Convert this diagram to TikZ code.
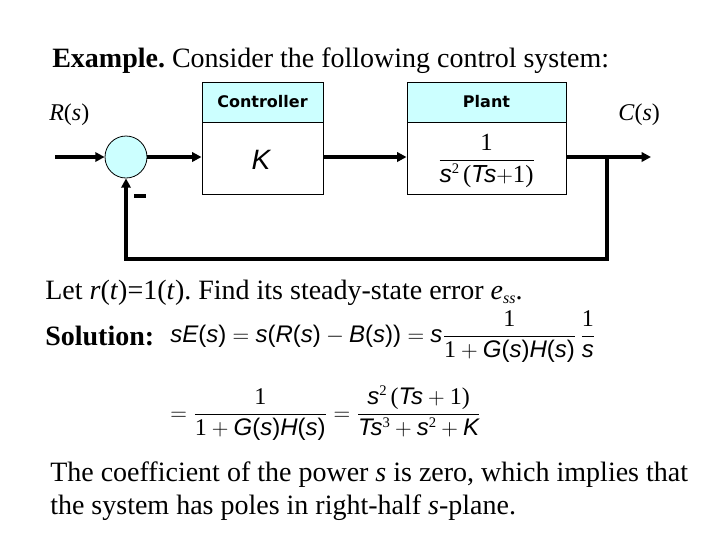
\documentclass[tikz,border=0pt]{standalone}
\usepackage{amsmath}
\usepackage{fontspec}
\setmainfont{Liberation Serif}
\newfontfamily\ar{Liberation Sans}
\newfontfamily\dvb{DejaVu Sans}
\usetikzlibrary{arrows.meta}
\definecolor{lcyan}{RGB}{204,255,255}
\frenchspacing
\newcommand\Si[1]{\text{\ar\itshape #1}}
\newcommand\Sr[1]{\text{\ar\upshape #1}}
\newcommand\Tr[1]{\text{\rmfamily\upshape #1}}
\newcommand\Sup[1]{\mbox{\raisebox{6.5pt}{\rmfamily\upshape\fontsize{11}{11}\selectfont #1}}}
\tikzset{
  conn/.style={line width=3pt,-{Triangle[length=7pt,width=7pt]}},
  connp/.style={line width=3pt},
  sumnode/.style={circle,draw,line width=0.6pt,fill=lcyan,minimum size=31.5pt,inner sep=0pt},
  blkbox/.style={draw,line width=0.75pt,fill=white,minimum width=#1,minimum height=84pt,inner sep=0pt},
  blkhead/.style={draw,line width=0.75pt,fill=lcyan,minimum width=#1,minimum height=30pt,inner sep=0pt,anchor=north,font=\dvb\bfseries\fontsize{12}{14}\selectfont},
  txt/.style={inner sep=0pt,anchor=base west,font=\fontsize{21}{25}\selectfont},
  sig/.style={inner sep=0pt,anchor=base west,font=\fontsize{18}{22}\selectfont},
  eqn/.style={inner sep=0pt,anchor=base west,font=\fontsize{18}{22}\selectfont},
}
\begin{document}
\begin{tikzpicture}[x=0.75pt,y=-0.75pt]
\useasboundingbox (0,0) rectangle (720,540);
\fill[white] (0,0) rectangle (720,540);
% title
\node[txt] (title) at (52,67) {\textbf{Example.} Consider the following control system:};
% signals
\node[sig] (Rs) at (49,120) {\textit{R}(\textit{s})};
\node[sig] (Cs) at (618,120) {\textit{C}(\textit{s})};
% summing junction
\node[sumnode] (sum) at (126,157) {};
% controller
\node[blkbox=90.75pt] (ctrl) at (262.5,138) {};
\node[blkhead=90.75pt] (ctrlh) at (ctrl.north) {Controller};
\node[inner sep=0pt,font=\ar\itshape\fontsize{21}{24}\selectfont] (K) at (261,160) {K};
% plant
\node[blkbox=119.25pt] (plant) at (486.5,138) {};
\node[blkhead=119.25pt] (planth) at (plant.north) {Plant};
\node[inner sep=0pt,font=\fontsize{18.5}{22}\selectfont] (G) at (486.5,161)
  {$\displaystyle\frac{\Tr{1}}{\Si{s}\Sup{2}\,\Tr{(}\Si{Ts}{+}\Tr{1)}}$};
% coordinates
\coordinate (in) at (55,157);
\coordinate (br) at (607,157);
\coordinate (out) at (651,157);
\coordinate (fb) at (607,259);
% connectors
\draw[conn] (in) -- (sum.west);
\draw[conn] (sum.east) -- (sum.east -| ctrl.west);
\draw[conn] (sum -| ctrl.east) -- (sum -| plant.west);
\draw[connp] (sum -| plant.east) -- (br);
\draw[conn] (br) -- (out);
\draw[conn] (br) -- (fb) -| (sum.south);
% minus sign
\node[inner sep=0pt,fill=black,minimum width=9pt,minimum height=3pt] (minus) at (140,196) {};
% text
\node[txt] (let) at (45,299) {Let \textit{r}(\textit{t})=1(\textit{t}). Find its steady-state error \textit{e}\raisebox{-3.5pt}{\fontsize{12}{13}\selectfont\textit{ss}}.};
\node[txt] (sol) at (45,345) {\textbf{Solution:}};
\node[eqn] (eq1) at (170,342)
 {$\displaystyle \Si{sE}\Sr{(}\Si{s}\Sr{)} = \Si{s}\Sr{(}\Si{R}\Sr{(}\Si{s}\Sr{)} - \Si{B}\Sr{(}\Si{s}\Sr{))} = \Si{s}\frac{\Tr{1}}{\Tr{1}+\Si{G}\Sr{(}\Si{s}\Sr{)}\Si{H}\Sr{(}\Si{s}\Sr{)}}\,\frac{\Tr{1}}{\Si{s}}$};
\node[eqn] (eq2) at (170,420)
 {$\displaystyle = \frac{\Tr{1}}{\Tr{1}+\Si{G}\Sr{(}\Si{s}\Sr{)}\Si{H}\Sr{(}\Si{s}\Sr{)}} = \frac{\Si{s}\Sup{2}\,\Tr{(}\Si{Ts}+\Tr{1)}}{\Si{Ts}\Sup{3}+\Si{s}\Sup{2}+\Si{K}}$};
\node[txt] (l1) at (50,481) {The coefficient of the power \textit{s} is zero, which implies that};
\node[txt] (l2) at (50,514) {the system has poles in right-half \textit{s}-plane.};
\end{tikzpicture}
\end{document}
